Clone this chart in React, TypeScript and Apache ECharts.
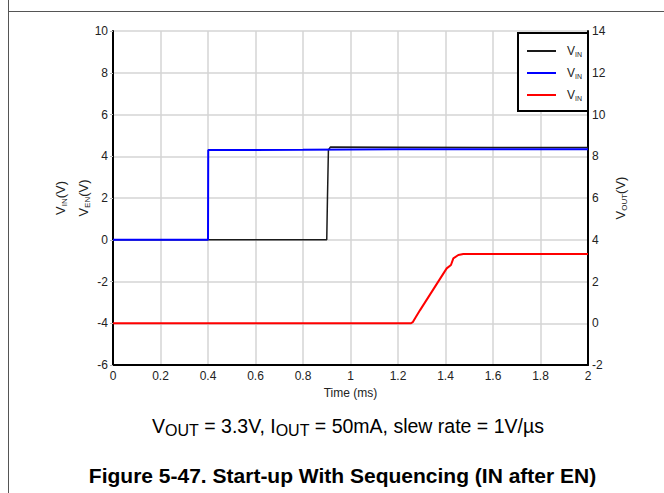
import { useEffect, useRef } from "react";
import * as echarts from "echarts";

// Time axis (ms)
const timeMin = 0;
const timeMax = 2;
const timeStep = 0.2;

// Voltage axes (V)
const leftMin = -6;
const leftMax = 10;
const rightMin = -2;
const rightMax = 14;
const voltStep = 2;

// Series values: [time ms, volts]
const blackTrace: [number, number][] = [
  [0, 0], [0.9, 0], [0.903, 2.0], [0.907, 4.3], [0.915, 4.44], [1.2, 4.43], [1.6, 4.42], [2, 4.42],
];
const blueTrace: [number, number][] = [
  [0, 0], [0.4, 0], [0.401, 4.3], [0.8, 4.31], [1.2, 4.33], [1.6, 4.33], [2, 4.33],
];
const redTrace: [number, number][] = [
  [0, 0], [1.255, 0], [1.262, 0.05], [1.272, 0.24], [1.293, 0.63], [1.405, 2.63],
  [1.423, 2.79], [1.433, 3.11], [1.454, 3.27], [1.475, 3.32], [2, 3.32],
];

const seriesNames = ["VIN_black", "VIN_blue", "VOUT_red"];
const seriesColors = ["#1a1a1a", "#0000ff", "#ff0000"];

const FONT = "'Liberation Sans', Arial, sans-serif";

export default function App() {
  const ref = useRef<HTMLDivElement>(null);
  useEffect(() => {
    document.body.style.margin = "0";
    const chart = echarts.init(ref.current!, undefined, { renderer: "svg" });
    const sub = (sz: number, pad: number) => ({
      fontSize: sz, color: "#222", fill: "#222", fontFamily: FONT, verticalAlign: "bottom" as const, padding: [pad, 0, 0, 0],
    });
    const norm = (sz: number, lh: number) => ({
      fontSize: sz, color: "#222", fill: "#222", fontFamily: FONT, lineHeight: lh, verticalAlign: "middle" as const,
    });
    const nameRich = { n: norm(13, 16), s: sub(8, 7) };
    const axisName = (text: string, x: number) => ({
      type: "text",
      x,
      y: 198,
      rotation: Math.PI / 2,
      style: { text, align: "center", verticalAlign: "middle", rich: nameRich },
    });
    chart.setOption({
      animation: false,
      backgroundColor: "#fff",
      textStyle: { fontFamily: FONT },
      grid: { left: 113, right: 76, top: 31, bottom: 128 },
      legend: {
        data: seriesNames,
        orient: "vertical",
        right: 76,
        top: 33,
        borderColor: "#000",
        borderWidth: 2,
        backgroundColor: "#fff",
        padding: [12, 6, 9, 8],
        itemGap: 9,
        itemWidth: 29,
        itemHeight: 14,
        itemStyle: { opacity: 0 },
        formatter: () => "{n|V}{s|IN}",
        textStyle: {
          padding: [0, 0, 0, 6],
          rich: { n: norm(12, 14), s: sub(7, 5) },
        },
      },
      xAxis: {
        type: "value",
        min: timeMin,
        max: timeMax,
        interval: timeStep,
        name: "Time (ms)",
        nameLocation: "middle",
        nameGap: 22,
        nameTextStyle: { fontSize: 12, color: "#222", fontFamily: FONT },
        axisLine: { show: true, onZero: false, lineStyle: { color: "#000", width: 2 } },
        axisTick: { show: false },
        axisLabel: { fontSize: 12, color: "#222", margin: 5, fontFamily: FONT },
        splitLine: { show: true, lineStyle: { color: "#d4d4d4", width: 1.5 } },
      },
      yAxis: [
        {
          type: "value",
          min: leftMin,
          max: leftMax,
          interval: voltStep,
          position: "left",
          axisLine: { show: true, onZero: false, lineStyle: { color: "#000", width: 2 } },
          axisTick: { show: true, length: 3, lineStyle: { color: "#bbb" } },
          axisLabel: { fontSize: 12, color: "#222", margin: 5, fontFamily: FONT },
          splitLine: { show: true, lineStyle: { color: "#d4d4d4", width: 1.5 } },
        },
        {
          type: "value",
          min: rightMin,
          max: rightMax,
          interval: voltStep,
          position: "right",
          axisLine: { show: true, onZero: false, lineStyle: { color: "#000", width: 2 } },
          axisTick: { show: false },
          axisLabel: { fontSize: 12, color: "#222", margin: 4, fontFamily: FONT },
          splitLine: { show: false },
        },
      ],
      series: [
        {
          name: seriesNames[0], type: "line", data: blackTrace, yAxisIndex: 0,
          symbol: "none", color: seriesColors[0], lineStyle: { width: 1.5, color: seriesColors[0] },
        },
        {
          name: seriesNames[1], type: "line", data: blueTrace, yAxisIndex: 0,
          symbol: "none", color: seriesColors[1], lineStyle: { width: 2, color: seriesColors[1] },
        },
        {
          name: seriesNames[2], type: "line", data: redTrace, yAxisIndex: 1,
          symbol: "none", color: seriesColors[2], lineStyle: { width: 2, color: seriesColors[2] },
        },
      ],
      graphic: [
        { type: "line", shape: { x1: 8.5, y1: 0, x2: 8.5, y2: 493 }, style: { stroke: "#555", lineWidth: 1 } },
        { type: "line", shape: { x1: 8, y1: 11.5, x2: 664, y2: 11.5 }, style: { stroke: "#555", lineWidth: 1 } },
        axisName("{n|V}{s|IN}{n|(V)}", 60),
        axisName("{n|V}{s|EN}{n|(V)}", 83),
        axisName("{n|V}{s|OUT}{n|(V)}", 620),
        {
          type: "text",
          x: 348,
          y: 426,
          style: {
            text: "{a|V}{b|OUT}{a| = 3.3V, I}{b|OUT}{a| = 50mA, slew rate = 1V/µs}",
            align: "center",
            verticalAlign: "middle",
            rich: {
              a: { fontSize: 19.5, lineHeight: 24, verticalAlign: "middle", fill: "#000", fontFamily: FONT },
              b: { fontSize: 16, lineHeight: 19, verticalAlign: "bottom", padding: [8, 0, 0, 0], fill: "#000", fontFamily: FONT },
            },
          },
        },
        {
          type: "text",
          x: 342.5,
          y: 475,
          style: {
            text: "Figure 5-47. Start-up With Sequencing (IN after EN)",
            align: "center",
            verticalAlign: "middle",
            fontSize: 21,
            fontWeight: "bold",
            fill: "#000",
            fontFamily: FONT,
          },
        },
      ],
    });
    return () => chart.dispose();
  }, []);
  return <div ref={ref} style={{ width: 664, height: 493 }} />;
}
